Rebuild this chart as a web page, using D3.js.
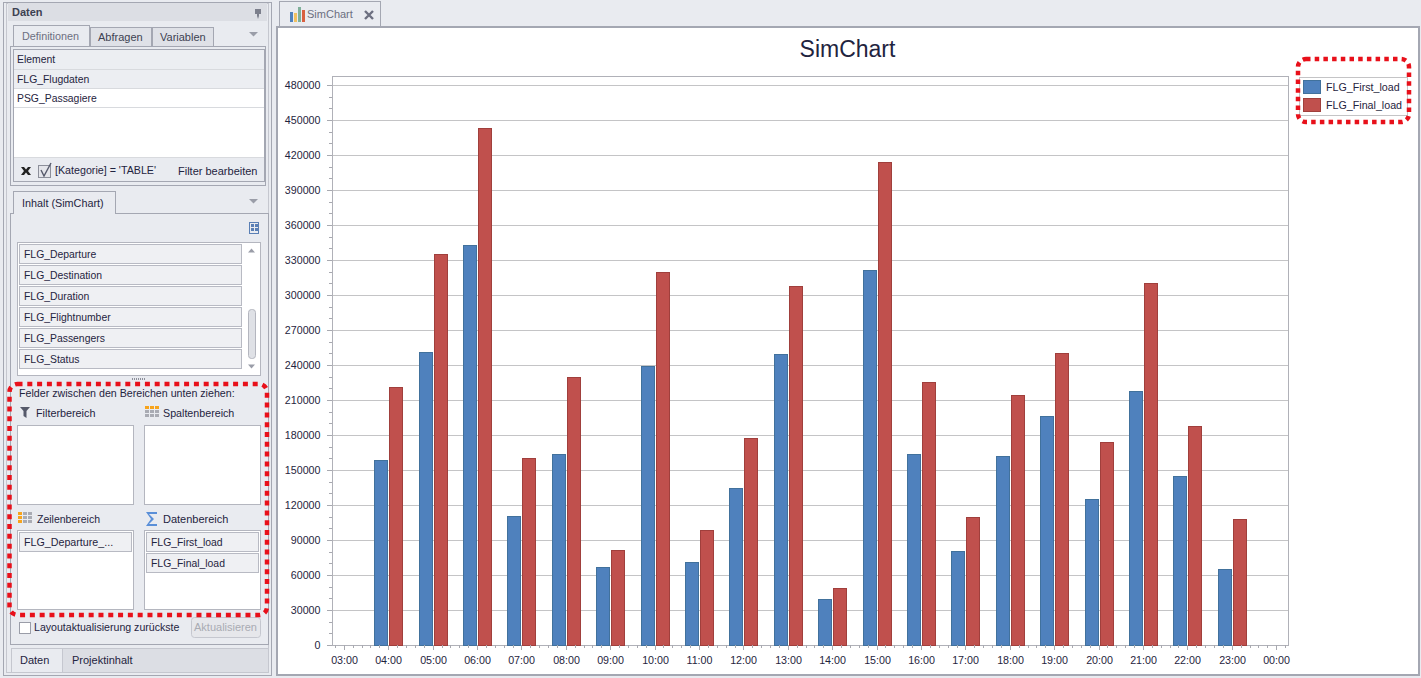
<!DOCTYPE html>
<html>
<head>
<meta charset="utf-8">
<title>SimChart</title>
<script src="https://cdn.jsdelivr.net/npm/d3@7/dist/d3.min.js"></script>
<style>
html,body{margin:0;padding:0;background:#e9ebf0;overflow:hidden}
svg{display:block}
text{font-family:"Liberation Sans",Arial,sans-serif;font-size:11px;fill:#1f2440}
</style>
</head>
<body>
<svg id="app" width="1421" height="678"></svg>
<script>
// Load per departure hour
const hours = ["04:00","05:00","06:00","07:00","08:00","09:00","10:00","11:00","12:00","13:00",
  "14:00","15:00","16:00","17:00","18:00","19:00","20:00","21:00","22:00","23:00"];
const firstLoad = [158500,251000,343000,110500,164000,67000,239000,71000,134500,249500,
  39500,321500,164000,80500,162000,196500,125000,218000,145000,65000];
const finalLoad = [221000,335000,443000,160000,230000,81500,320000,98500,177500,308000,
  49000,414000,225500,110000,214500,250500,174000,310500,187500,108000];
const seriesNames = ["FLG_First_load","FLG_Final_load"];
const seriesColors = ["#4f81bd","#c0504d"];
const seriesEdges = ["#41719c","#a03f3c"];

// Side panel contents
const tabsTop = ["Definitionen","Abfragen","Variablen"];
const tableRows = ["Element","FLG_Flugdaten","PSG_Passagiere"];
const fieldList = ["FLG_Departure","FLG_Destination","FLG_Duration","FLG_Flightnumber","FLG_Passengers","FLG_Status"];
const dataFields = ["FLG_First_load","FLG_Final_load"];

const svg = d3.select("#app");
const BORDER = "#a4a7b2";
const FIELD_SIZE = 10.4;

function box(g,x,y,w,h,fill,stroke,rx){
  return g.append("rect").attr("x",x+.5).attr("y",y+.5).attr("width",w).attr("height",h)
    .attr("fill",fill||"none").attr("stroke",stroke||"none").attr("rx",rx||0);
}
function label(g,x,y,s,opt){
  const t = g.append("text").attr("x",x).attr("y",y).text(s);
  if(opt&&opt.fill) t.style("fill",opt.fill);
  if(opt&&opt.size) t.style("font-size",opt.size+"px");
  if(opt&&opt.weight) t.style("font-weight",opt.weight);
  if(opt&&opt.anchor) t.attr("text-anchor",opt.anchor);
  return t;
}
function hline(g,x1,x2,y,c){g.append("line").attr("x1",x1).attr("x2",x2).attr("y1",y+.5).attr("y2",y+.5).attr("stroke",c);}
function tri(g,x,y){g.append("path").attr("d",`M${x},${y}h9l-4.5,4.5z`).attr("fill","#9a9da8");}

/* ---------- side panel ---------- */
const side = svg.append("g");
box(side,3,2,268,673,"#e9ebf0",BORDER);
box(side,6,3,262,669,"#e9ebf0","#c5c7cf");
side.append("rect").attr("x",8).attr("y",3).attr("width",259).attr("height",18).attr("fill","#dcdee4");
label(side,12,16,"Daten",{weight:700,fill:"#3d4152"});
side.append("path").attr("d","M255,9h6v5h-2v2l-1,3l-1,-3v-2h-2z").attr("fill","#7c7f8c");

// Upper tabs
box(side,13,25,76,22,"#e9ebf0",BORDER);
box(side,90,27,61,19,"#dfe1e7",BORDER);
box(side,152,27,61,19,"#dfe1e7",BORDER);
side.append("rect").attr("x",14).attr("y",44).attr("width",75).attr("height",4).attr("fill","#e9ebf0");
label(side,22,40,tabsTop[0],{fill:"#6c6f80",size:10.8});
label(side,98,41,tabsTop[1],{fill:"#3d4152"});
label(side,160,41,tabsTop[2],{fill:"#3d4152"});
tri(side,249,32);

box(side,10,46,255,139,"#e9ebf0",BORDER);
box(side,13,49,251,132,"#fff",BORDER);
side.append("rect").attr("x",14).attr("y",50).attr("width",250).attr("height",19).attr("fill","#eceef2");
side.append("rect").attr("x",14).attr("y",70).attr("width",250).attr("height",18).attr("fill","#eceef2");
side.append("rect").attr("x",14).attr("y",158).attr("width",250).attr("height",23).attr("fill","#e9ebf0");
[69,88,107,157].forEach(y=>hline(side,14,264,y,"#d8dade"));
tableRows.forEach((s,i)=>label(side,17,63+i*19.5,s,{size:FIELD_SIZE}));
side.append("path").attr("d","M21,167l3,0l2,2.5l2,-2.5l3,0l-3,4l3,4l-3,0l-2,-2.5l-2,2.5l-3,0l3,-4z").attr("fill","#222");
box(side,38,165,12,12,"#e4e5ea","#8c8f9a");
side.append("path").attr("d","M41,170l3,6l7,-13").attr("fill","none").attr("stroke","#55596a").attr("stroke-width",1.4);
label(side,55,174,"[Kategorie] = 'TABLE'",{size:10.7});
label(side,178,175,"Filter bearbeiten");

// Content tab
box(side,13,191,102,22,"#e9ebf0",BORDER);
side.append("rect").attr("x",14).attr("y",210).attr("width",101).attr("height",5).attr("fill","#e9ebf0");
label(side,22,207,"Inhalt (SimChart)",{size:10.8});
tri(side,249,199);
box(side,10,213,258,431,"none",BORDER);
side.append("rect").attr("x",14).attr("y",212).attr("width",101).attr("height",2).attr("fill","#e9ebf0");
box(side,249,222,9,11,"none","#5a7fb5");
side.selectAll(".gridicon").data([[251,224],[255,224],[251,228],[255,228]]).join("rect")
  .attr("x",d=>d[0]).attr("y",d=>d[1]).attr("width",3).attr("height",3).attr("fill","#5a7fb5");

// Field list
box(side,17,242,243,133,"#fff","#b4b6bf");
fieldList.forEach((s,i)=>{
  box(side,19,244+i*21,222,19,"#eff0f3","#b8bac3");
  label(side,24,258+i*21,s,{size:FIELD_SIZE});
});
side.append("path").attr("d","M248,252.5h7l-3.5,-4z").attr("fill","#9a9da8");
side.append("path").attr("d","M248,364.5h7l-3.5,4z").attr("fill","#9a9da8");
box(side,248,309,7,49,"#dfe1e6","#b4b6bf",3);
side.selectAll(".grip").data(d3.range(7)).join("rect").attr("x",d=>132+d*2).attr("y",378).attr("width",1).attr("height",2).attr("fill","#8c8f9a");

// Drop areas
label(side,19,397,"Felder zwischen den Bereichen unten ziehen:",{size:10.66});
side.append("path").attr("d","M20,407h10l-3.5,4v7l-3,-2v-5z").attr("fill","#55596a");
label(side,36,417,"Filterbereich",{size:10.8});
function gridIcon(x,y,hot){
  d3.range(3).forEach(r=>d3.range(3).forEach(c=>{
    const on = hot==="row" ? c===0 : r===0;
    side.append("rect").attr("x",x+c*5).attr("y",y+r*4).attr("width",4).attr("height",3)
      .attr("fill",on?"#f7a41d":"#a9abb3");
  }));
}
gridIcon(145,406,"col");
label(side,163,417,"Spaltenbereich",{size:10.7});
box(side,17,425,116,79,"#fff","#b4b6bf");
box(side,144,425,116,79,"#fff","#b4b6bf");
gridIcon(18,512,"row");
label(side,37,523,"Zeilenbereich",{size:10.5});
side.append("path").attr("d","M146,512h11v2h-8l5,5l-5,5h8v2h-11l5,-7z").attr("fill","#5a8fd8");
label(side,163,523,"Datenbereich");
box(side,17,530,116,79,"#fff","#b4b6bf");
box(side,144,530,116,79,"#fff","#b4b6bf");
box(side,19,532,112,19,"#eff0f3","#b8bac3");
label(side,24,546,"FLG_Departure_...",{size:10.7});
dataFields.forEach((s,i)=>{
  box(side,146,532+i*21,112,19,"#eff0f3","#b8bac3");
  label(side,151,546+i*21,s,{size:FIELD_SIZE});
});

// Bottom controls
box(side,19,622,11,11,"#fff","#9a9da8");
label(side,34,631,"Layoutaktualisierung zurückste",{size:10.6});
box(side,191,617,69,20,"#e6e7eb","#c5c7cf",3);
label(side,225.5,631,"Aktualisieren",{fill:"#a9abb3",anchor:"middle"});
side.append("rect").attr("x",62).attr("y",648).attr("width",206).attr("height",24).attr("fill","#dcdee4");
box(side,11,648,51,24,"#e9ebf0","#c5c7cf");
hline(side,62,268,648,"#c5c7cf");
label(side,20,664,"Daten");
label(side,72,664,"Projektinhalt");

/* ---------- chart pane ---------- */
const pane = svg.append("g");
box(pane,279,1,101,25,"#e9ebf0",BORDER);
pane.append("rect").attr("x",276).attr("y",26).attr("width",1144).attr("height",650).attr("fill","#fff");
pane.append("rect").attr("x",277).attr("y",27).attr("width",1142).attr("height",648).attr("fill","none").attr("stroke",BORDER).attr("stroke-width",2);
pane.append("rect").attr("x",290).attr("y",12).attr("width",3).attr("height",10).attr("fill","#4f81bd");
pane.append("rect").attr("x",294).attr("y",13).attr("width",3).attr("height",9).attr("fill","#f0c060");
pane.append("rect").attr("x",298).attr("y",7).attr("width",3).attr("height",15).attr("fill","#7fb09a");
pane.append("rect").attr("x",302).attr("y",10).attr("width",3).attr("height",12).attr("fill","#d9603f");
label(pane,307,18,"SimChart",{fill:"#6c6f80"});
pane.append("path").attr("d","M365,11l8,8M373,11l-8,8").attr("stroke","#6c6f80").attr("stroke-width",2.4);
label(pane,847.5,57,"SimChart",{size:23,anchor:"middle"});

/* ---------- scales ---------- */
const plot = {left:332,right:1288,top:76,bottom:645};
const parseHour = s => new Date(2000,0,1,+s.slice(0,2),0);
const x = d3.scaleTime()
  .domain([new Date(2000,0,1,2,44), new Date(2000,0,2,0,16)])
  .range([plot.left,plot.right]);
const y = d3.scaleLinear().domain([0,480000]).range([plot.bottom,85]);
const yMajor = d3.range(0,480001,30000);
const yMinor = d3.range(0,480001,10000);

const chart = svg.append("g");
chart.selectAll(".grid").data(yMajor.slice(1)).join("line")
  .attr("x1",plot.left).attr("x2",plot.right)
  .attr("y1",d=>Math.round(y(d))+.5).attr("y2",d=>Math.round(y(d))+.5)
  .attr("stroke","#c4c4c6");
chart.append("rect").attr("x",plot.left+.5).attr("y",plot.top+.5)
  .attr("width",plot.right-plot.left).attr("height",plot.bottom-plot.top)
  .attr("fill","none").attr("stroke","#b0b1b8");

/* ---------- bars ---------- */
const rows = hours.map((h,i)=>({t:parseHour(h),first:firstLoad[i],final:finalLoad[i]}));
const barW = 13;
["first","final"].forEach((key,k)=>{
  chart.selectAll(".bar"+k).data(rows).join("rect")
    .attr("x",d=>Math.round(x(d.t)) + (k===0 ? -13.5 : 1.5))
    .attr("width",barW)
    .attr("y",d=>Math.round(y(d[key]))+.5)
    .attr("height",d=>plot.bottom-Math.round(y(d[key])))
    .attr("fill",seriesColors[k]).attr("stroke",seriesEdges[k]);
});

/* ---------- axes ---------- */
const axisStyle = g=>{
  g.selectAll("text").style("font-family",'"Liberation Sans",Arial,sans-serif').style("font-size","10.7px").style("fill","#1f2440");
  g.selectAll("line,path").attr("stroke","#a8a9b0");
  g.select(".domain").remove();
};
// Snap the tick groups to whole pixels so the tick lines stay crisp
const snapX = g => g.selectAll(".tick").attr("transform",d=>`translate(${Math.round(x(d))+.5},0)`);
const snapY = g => g.selectAll(".tick").attr("transform",d=>`translate(0,${Math.round(y(d))+.5})`);

chart.append("g").attr("transform",`translate(${plot.left},0)`)
  .call(d3.axisLeft(y).tickValues(yMinor.filter(v=>v%30000)).tickSize(3).tickFormat("").tickSizeOuter(0))
  .call(axisStyle).call(snapY);
chart.append("g").attr("transform",`translate(${plot.left},0)`)
  .call(d3.axisLeft(y).tickValues(yMajor).tickSize(5).tickPadding(6.5).tickFormat(d3.format("d")).tickSizeOuter(0))
  .call(axisStyle).call(snapY);
const xMinor = d3.timeMinute.every(12).range(new Date(2000,0,1,2,48),new Date(2000,0,2,0,13));
chart.append("g").attr("transform",`translate(0,${plot.bottom})`)
  .call(d3.axisBottom(x).tickValues(xMinor).tickSize(3).tickFormat("").tickSizeOuter(0))
  .call(axisStyle).call(snapX);
chart.append("g").attr("transform",`translate(0,${plot.bottom})`)
  .call(d3.axisBottom(x).ticks(d3.timeHour.every(1)).tickSize(5).tickPadding(6)
    .tickFormat(d3.timeFormat("%H:%M")).tickSizeOuter(0))
  .call(axisStyle).call(snapX);

/* ---------- legend ---------- */
box(chart,1299,77,108,38,"#fff","#c4c4c6");
seriesNames.forEach((s,i)=>{
  chart.append("rect").attr("x",1303.5).attr("y",80.5+i*18).attr("width",17).attr("height",13)
    .attr("fill",seriesColors[i]).attr("stroke",seriesEdges[i]);
  label(chart,1326,91+i*18,s,{size:10.7});
});

/* ---------- dotted highlight frames ---------- */
const marks = svg.append("g").attr("fill","none").attr("stroke","#e8101a").attr("stroke-width",4.5);
marks.append("rect").attr("x",1298).attr("y",59).attr("width",111).attr("height",63).attr("rx",8).attr("stroke-dasharray","4.5 4.2");
marks.append("rect").attr("x",9.5).attr("y",384).attr("width",257.5).attr("height",231).attr("rx",8).attr("stroke-dasharray","5 4.8");
</script>
</body>
</html>
